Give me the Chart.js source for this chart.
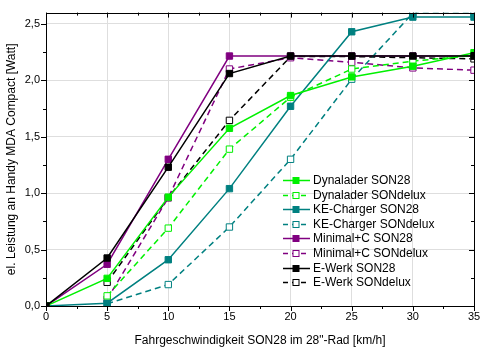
<!DOCTYPE html>
<html>
<head>
<meta charset="utf-8">
<script src="https://cdn.jsdelivr.net/npm/chart.js@4.4.0/dist/chart.umd.min.js"></script>
<style>
html, body { margin: 0; padding: 0; background: #fff; }
</style>
</head>
<body>
<canvas id="myChart" width="485" height="353"></canvas>
<script>
// Fahrgeschwindigkeit in km/h
const speeds = [0, 5, 10, 15, 20, 25, 30, 35];
const xTicks = [0, 5, 10, 15, 20, 25, 30, 35];
const yTicks = [0, 0.5, 1, 1.5, 2, 2.5];

// Leistung in Watt
const dynaSon28 = [0, 0.245, 0.965, 1.575, 1.865, 2.03, 2.125, 2.245];
const dynaDelux = [null, 0.09, 0.69, 1.39, 1.85, 2.10, 2.17, 2.22];
const keSon28 = [0, 0.025, 0.41, 1.04, 1.77, 2.43, 2.56, 2.56];
const keDelux = [null, 0.02, 0.19, 0.70, 1.30, 2.01, 2.595, 2.595];
const minimalSon28 = [0, 0.37, 1.30, 2.215, 2.215, 2.215, 2.215, 2.215];
const minimalDelux = [null, 0.06, 0.96, 2.10, 2.20, 2.16, 2.11, 2.09];
const ewerkSon28 = [0, 0.425, 1.23, 2.06, 2.215, 2.215, 2.215, 2.215];
const ewerkDelux = [null, 0.21, 0.96, 1.645, 2.21, 2.21, 2.20, 2.19];

const green = '#00f000';
const teal = '#008080';
const purple = '#800080';
const black = '#000000';
const dash = [6, 4];
const font = "'Liberation Sans', Arial, sans-serif";

function series(label, data, color, dashed, order) {
    return {
        label: label,
        data: data,
        borderColor: color,
        borderWidth: 1.5,
        borderDash: dashed ? dash : [],
        pointStyle: 'rect',
        pointRadius: 4.5,
        pointBorderWidth: 1,
        pointBorderColor: color,
        pointBackgroundColor: dashed ? '#ffffff' : color,
        tension: 0,
        order: order || 0
    };
}

// draws frame, minor/major ticks and the legend inside the plot
const framePlugin = {
    id: 'frame',
    afterDraw(chart) {
        const c = chart.ctx;
        const a = chart.chartArea;
        const xs = chart.scales.x;
        const ys = chart.scales.y;
        c.save();
        c.strokeStyle = '#000';
        c.lineWidth = 1;
        c.strokeRect(Math.round(a.left) + 0.5, Math.round(a.top) + 0.5,
            Math.round(a.right - a.left), Math.round(a.bottom - a.top));
        c.beginPath();
        for (let v = 0; v <= 35; v += 2.5) {
            const px = Math.round(xs.getPixelForValue(v)) + 0.5;
            const len = (v % 5 === 0) ? 5 : 3;
            c.moveTo(px, a.bottom); c.lineTo(px, a.bottom + len);
            c.moveTo(px, a.top); c.lineTo(px, a.top + len);
        }
        for (let v = 0; v <= 2.6; v += 0.25) {
            const py = Math.round(ys.getPixelForValue(v)) + 0.5;
            const len = (Math.round(v * 100) % 50 === 0) ? 5 : 3;
            c.moveTo(a.left, py); c.lineTo(a.left - len, py);
            c.moveTo(a.right, py); c.lineTo(a.right - len, py);
        }
        c.stroke();

        // legend
        const x0 = 283, x1 = 310, y0 = 180, step = 14.6;
        c.font = '12px ' + font;
        c.textBaseline = 'middle';
        chart.data.datasets.forEach((ds, i) => {
            const y = Math.round(y0 + i * step) + 0.5;
            c.strokeStyle = ds.borderColor;
            c.lineWidth = ds.borderWidth;
            c.setLineDash(ds.borderDash.length ? [5, 4] : []);
            c.beginPath();
            c.moveTo(x0, y); c.lineTo(x1, y);
            c.stroke();
            c.setLineDash([]);
            c.fillStyle = ds.pointBackgroundColor;
            c.fillRect(x1 - 17, y - 3, 6, 6);
            c.lineWidth = 1;
            c.strokeRect(x1 - 17, y - 3, 6, 6);
            c.fillStyle = '#000';
            c.fillText(ds.label, 313, y);
        });
        c.restore();
    }
};

const ctx = document.getElementById('myChart').getContext('2d');
const myChart = new Chart(ctx, {
    type: 'line',
    data: {
        labels: speeds,
        datasets: [
            series('Dynalader SON28', dynaSon28, green, false),
            series('Dynalader SONdelux', dynaDelux, green, true),
            series('KE-Charger SON28', keSon28, teal, false),
            series('KE-Charger SONdelux', keDelux, teal, true),
            series('Minimal+C SON28', minimalSon28, purple, false),
            series('Minimal+C SONdelux', minimalDelux, purple, true),
            series('E-Werk SON28', ewerkSon28, black, false, -1),
            series('E-Werk SONdelux', ewerkDelux, black, true)
        ]
    },
    options: {
        responsive: false,
        animation: false,
        layout: { padding: { top: 5, right: 11, left: 0, bottom: 0 } },
        plugins: {
            legend: { display: false },
            tooltip: { enabled: false }
        },
        scales: {
            x: {
                type: 'linear',
                min: 0,
                max: 35,
                afterBuildTicks: s => { s.ticks = xTicks.map(v => ({ value: v })); },
                afterFit: s => { s.height = 47; },
                grid: { color: '#dedede', drawTicks: false },
                border: { display: false },
                ticks: {
                    padding: 4,
                    color: '#000',
                    font: { family: font, size: 11 },
                    maxRotation: 0
                },
                title: {
                    display: true,
                    text: 'Fahrgeschwindigkeit SON28 im 28"-Rad [km/h]',
                    color: '#000',
                    font: { family: font, size: 12 },
                    padding: { top: 0, bottom: 5 }
                }
            },
            y: {
                type: 'linear',
                min: 0,
                max: 2.6,
                afterBuildTicks: s => { s.ticks = yTicks.map(v => ({ value: v })); },
                afterFit: s => { s.width = 46; },
                grid: { color: '#dedede', drawTicks: false },
                border: { display: false },
                ticks: {
                    padding: 6,
                    color: '#000',
                    font: { family: font, size: 11 },
                    callback: v => v.toFixed(1).replace('.', ',')
                },
                title: {
                    display: true,
                    text: 'el. Leistung an Handy MDA Compact [Watt]',
                    color: '#000',
                    font: { family: font, size: 12 },
                    padding: { top: 4, bottom: 0 }
                }
            }
        }
    },
    plugins: [framePlugin]
});
</script>
</body>
</html>
